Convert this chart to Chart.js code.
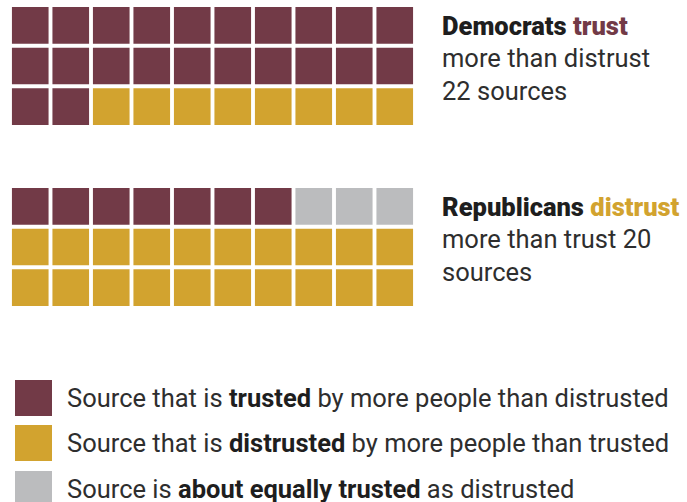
<!DOCTYPE html>
<html>
<head>
<meta charset="utf-8">
<script src="https://cdn.jsdelivr.net/npm/chart.js@4"></script>
<style>
  body { margin: 0; background: #fff; width: 687px; height: 502px; overflow: hidden; position: relative; font-family: Roboto, "Liberation Sans", sans-serif; color: #2e2e2e; }
  canvas { position: absolute; left: 10px; }
  #demChart { top: 5px; }
  #repChart { top: 186px; }
  .note { position: absolute; left: 442px; font-size: 25.5px; line-height: 32.5px; white-space: nowrap; }
  .note b { font-weight: 900; color: #1e1e1e; }
  #demNote { top: 9.5px; }
  #repNote { top: 190.5px; }
  .legend { position: absolute; left: 15px; top: 380px; font-size: 25.5px; }
  .legend div { position: relative; height: 45.3px; line-height: 36px; padding-left: 52px; white-space: nowrap; }
  .legend span.sw { position: absolute; left: 0; top: 0; width: 37px; height: 36px; }
  .legend b { font-weight: 700; color: #1e1e1e; }
</style>
</head>
<body>
<canvas id="demChart" width="405" height="122"></canvas>
<canvas id="repChart" width="405" height="122"></canvas>

<div class="note" id="demNote"><b>Democrats <span style="color:#723a47">trust</span></b><br>more than distrust<br>22 sources</div>
<div class="note" id="repNote"><b>Republicans <span style="color:#d2a32f">distrust</span></b><br>more than trust 20<br>sources</div>

<div class="legend">
  <div><span class="sw" style="background:#723a47"></span>Source that is <b>trusted</b> by more people than distrusted</div>
  <div><span class="sw" style="background:#d2a32f"></span>Source that is <b>distrusted</b> by more people than trusted</div>
  <div><span class="sw" style="background:#bbbcbe"></span>Source is <b>about equally trusted</b> as distrusted</div>
</div>

<script>
// fill order of the waffle cells
const categories = ['Trusted', 'About equally trusted', 'Distrusted'];
const colors = ['#723a47', '#bbbcbe', '#d2a32f'];
const democrats = [22, 0, 8];
const republicans = [7, 3, 20];
const columns = 10;

function waffle(canvasId, counts) {
  const datasets = [];
  let k = 0;
  counts.forEach((n, i) => {
    const pts = [];
    for (let j = 0; j < n; j++, k++) {
      pts.push({ x: k % columns, y: Math.floor(k / columns) });
    }
    datasets.push({
      label: categories[i],
      data: pts,
      backgroundColor: colors[i],
      pointStyle: 'rect',
      pointRadius: 25.9,
      pointHoverRadius: 25.9,
      borderWidth: 0,
    });
  });

  new Chart(document.getElementById(canvasId), {
    type: 'scatter',
    data: { datasets: datasets },
    options: {
      responsive: false,
      animation: false,
      events: [],
      clip: false,
      layout: { padding: 0, autoPadding: false },
      scales: {
        x: { display: false, min: -0.5, max: columns - 0.5 },
        y: { display: false, min: -0.5, max: 2.5, reverse: true },
      },
      plugins: {
        legend: { display: false },
        tooltip: { enabled: false },
      },
    },
  });
}

waffle('demChart', democrats);
waffle('repChart', republicans);
</script>
</body>
</html>
